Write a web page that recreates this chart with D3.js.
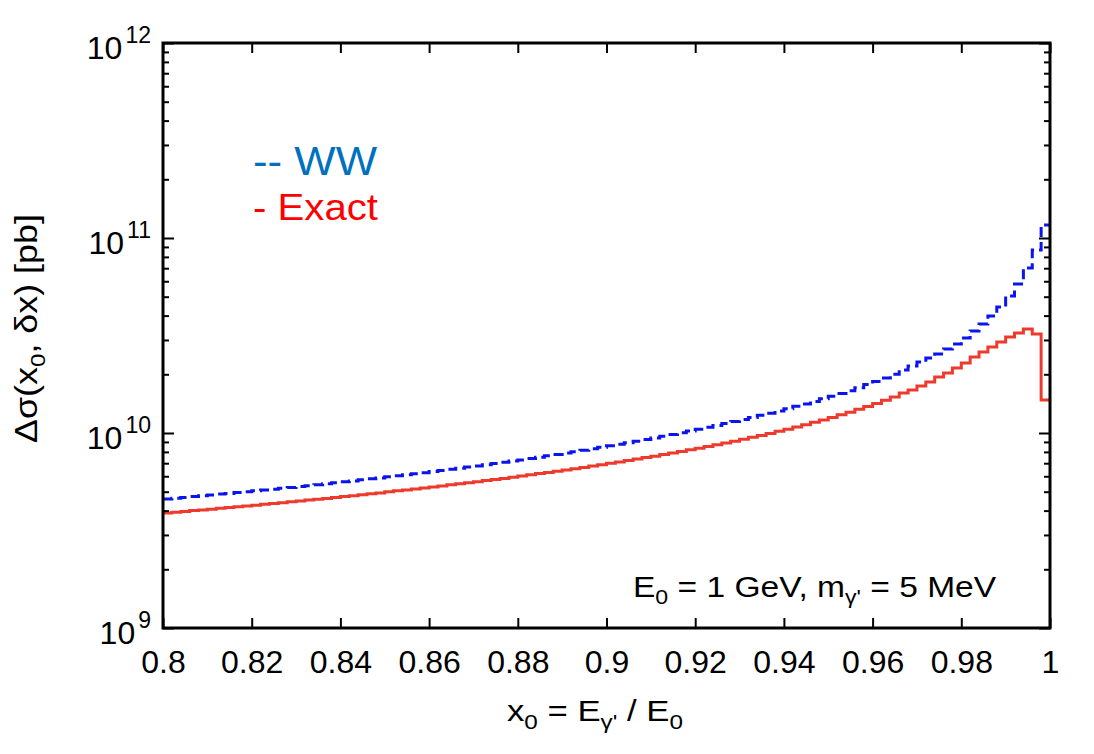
<!DOCTYPE html>
<html>
<head>
<meta charset="utf-8">
<script src="https://cdn.jsdelivr.net/npm/d3@7"></script>
<style>
  html, body { margin: 0; padding: 0; background: #ffffff; }
  svg { display: block; }
  text { font-family: "Liberation Sans", Arial, Helvetica, sans-serif; fill: #000; }
</style>
</head>
<body>
<svg id="chart" width="1094" height="754"></svg>
<script>
// ---------------- data ----------------
const xStart = 0.8, xEnd = 1.0, binWidth = 0.002;   // 100 bins of width 0.002

// WW approximation (blue dashed), per bin, pb
const wwValues = [
  4.59e9, 4.63e9, 4.67e9, 4.72e9, 4.76e9, 4.81e9, 4.86e9, 4.90e9, 4.95e9, 5.00e9,
  5.05e9, 5.10e9, 5.15e9, 5.21e9, 5.26e9, 5.32e9, 5.37e9, 5.43e9, 5.49e9, 5.55e9,
  5.62e9, 5.68e9, 5.75e9, 5.82e9, 5.88e9, 5.96e9, 6.03e9, 6.10e9, 6.18e9, 6.26e9,
  6.34e9, 6.42e9, 6.51e9, 6.60e9, 6.69e9, 6.78e9, 6.87e9, 6.97e9, 7.07e9, 7.18e9,
  7.28e9, 7.40e9, 7.51e9, 7.64e9, 7.76e9, 7.89e9, 8.02e9, 8.16e9, 8.30e9, 8.44e9,
  8.59e9, 8.75e9, 8.91e9, 9.08e9, 9.26e9, 9.44e9, 9.63e9, 9.82e9, 1.003e10, 1.024e10,
  1.046e10, 1.069e10, 1.093e10, 1.119e10, 1.145e10, 1.172e10, 1.201e10, 1.232e10, 1.264e10, 1.297e10,
  1.333e10, 1.370e10, 1.410e10, 1.452e10, 1.497e10, 1.544e10, 1.595e10, 1.649e10, 1.708e10, 1.771e10,
  1.838e10, 1.916e10, 1.999e10, 2.104e10, 2.206e10, 2.313e10, 2.424e10, 2.542e10, 2.697e10, 2.860e10,
  3.070e10, 3.335e10, 3.622e10, 3.981e10, 4.428e10, 5.042e10, 5.809e10, 7.018e10, 8.680e10, 1.166e11
];

// Exact calculation (red solid), per bin, pb
const exactValues = [
  3.89e9, 3.92e9, 3.96e9, 4.00e9, 4.03e9, 4.07e9, 4.11e9, 4.15e9, 4.19e9, 4.22e9,
  4.26e9, 4.31e9, 4.35e9, 4.39e9, 4.44e9, 4.48e9, 4.53e9, 4.57e9, 4.62e9, 4.67e9,
  4.72e9, 4.77e9, 4.82e9, 4.88e9, 4.93e9, 4.99e9, 5.05e9, 5.10e9, 5.16e9, 5.23e9,
  5.29e9, 5.35e9, 5.42e9, 5.49e9, 5.56e9, 5.63e9, 5.70e9, 5.78e9, 5.85e9, 5.93e9,
  6.02e9, 6.10e9, 6.19e9, 6.28e9, 6.37e9, 6.46e9, 6.56e9, 6.66e9, 6.77e9, 6.88e9,
  6.99e9, 7.10e9, 7.22e9, 7.35e9, 7.48e9, 7.61e9, 7.75e9, 7.89e9, 8.04e9, 8.20e9,
  8.36e9, 8.53e9, 8.71e9, 8.89e9, 9.08e9, 9.29e9, 9.50e9, 9.72e9, 9.95e9, 1.020e10,
  1.046e10, 1.074e10, 1.103e10, 1.134e10, 1.167e10, 1.201e10, 1.239e10, 1.279e10, 1.322e10, 1.368e10,
  1.418e10, 1.472e10, 1.530e10, 1.604e10, 1.661e10, 1.742e10, 1.826e10, 1.938e10, 2.031e10, 2.154e10,
  2.286e10, 2.453e10, 2.602e10, 2.761e10, 2.929e10, 3.107e10, 3.257e10, 3.415e10, 3.219e10, 1.476e10
];

const xTicks = [0.8, 0.82, 0.84, 0.86, 0.88, 0.9, 0.92, 0.94, 0.96, 0.98, 1.0];
const xTickLabels = ["0.8", "0.82", "0.84", "0.86", "0.88", "0.9", "0.92", "0.94", "0.96", "0.98", "1"];
const yDecades = [1e9, 1e10, 1e11, 1e12];
const yDecadeExponents = ["9", "10", "11", "12"];

// ---------------- layout ----------------
const svg = d3.select("#chart");
const L = 163, R = 1050, T = 43, B = 628;

const x = d3.scaleLinear().domain([xStart, xEnd]).range([L, R]);
const y = d3.scaleLog().domain([1e9, 1e12]).range([B, T]);

svg.append("defs").append("clipPath").attr("id", "plotclip")
  .append("rect").attr("x", L).attr("y", T).attr("width", R - L).attr("height", B - T);

function stepPoints(vals) {
  const pts = vals.map((v, i) => [xStart + i * binWidth, v]);
  pts.push([xEnd, vals[vals.length - 1]]);
  return pts;
}
const line = d3.line()
  .x(d => x(d[0]))
  .y(d => y(d[1]))
  .curve(d3.curveStepAfter);

const plot = svg.append("g").attr("clip-path", "url(#plotclip)");

plot.append("path")
  .datum(stepPoints(exactValues))
  .attr("d", line)
  .attr("fill", "none")
  .attr("stroke", "#ee3a2c")
  .attr("stroke-width", 3);

plot.append("path")
  .datum(stepPoints(wwValues))
  .attr("d", line)
  .attr("fill", "none")
  .attr("stroke", "#0a14ee")
  .attr("stroke-width", 3)
  .attr("stroke-dasharray", "10,5");

// ---------------- axes ----------------
const minorY = [];
for (let e = 9; e < 12; e++) for (let m = 2; m <= 9; m++) minorY.push(m * Math.pow(10, e));

function styleAxis(g) {
  g.select(".domain").remove();
  g.selectAll(".tick line").attr("stroke", "#000").attr("stroke-width", 2);
}

const gB = svg.append("g").attr("transform", `translate(0,${B})`)
  .call(d3.axisBottom(x).tickValues(xTicks).tickSize(-10).tickPadding(22)
    .tickFormat((d, i) => xTickLabels[i]));
styleAxis(gB);
gB.selectAll(".tick text").attr("font-size", 32).attr("fill", "#000")
  .attr("font-family", "'Liberation Sans', Arial, sans-serif");

const gT = svg.append("g").attr("transform", `translate(0,${T})`)
  .call(d3.axisTop(x).tickValues(xTicks).tickSize(-10).tickFormat(""));
styleAxis(gT);

const gL = svg.append("g").attr("transform", `translate(${L},0)`)
  .call(d3.axisLeft(y).tickValues(yDecades).tickSize(-11).tickFormat(""));
styleAxis(gL);
const gLm = svg.append("g").attr("transform", `translate(${L},0)`)
  .call(d3.axisLeft(y).tickValues(minorY).tickSize(-6).tickFormat(""));
styleAxis(gLm);

const gR = svg.append("g").attr("transform", `translate(${R},0)`)
  .call(d3.axisRight(y).tickValues(yDecades).tickSize(-11).tickFormat(""));
styleAxis(gR);
const gRm = svg.append("g").attr("transform", `translate(${R},0)`)
  .call(d3.axisRight(y).tickValues(minorY).tickSize(-6).tickFormat(""));
styleAxis(gRm);

yDecades.forEach((d, i) => {
  const t = svg.append("text")
    .attr("x", 151).attr("y", y(d) + 16)
    .attr("text-anchor", "end")
    .attr("font-size", 32);
  t.append("tspan").text("10");
  t.append("tspan").attr("dx", 3).attr("dy", -16).attr("font-size", 23).text(yDecadeExponents[i]);
});

svg.append("rect")
  .attr("x", L).attr("y", T).attr("width", R - L).attr("height", B - T)
  .attr("fill", "none").attr("stroke", "#000").attr("stroke-width", 3);

// ---------------- titles ----------------
// scale a text (anchored at 0,0) horizontally so its width equals targetW
function fitText(t, tx, ty, targetW, rot) {
  const w = t.node().getBBox().width;
  const s = targetW / w;
  t.attr("transform", `translate(${tx},${ty})` + (rot ? ` rotate(${rot})` : "") + ` scale(${s},1)`);
}

const xt = svg.append("text").attr("x", 0).attr("y", 0).attr("font-size", 30);
xt.append("tspan").text("x");
xt.append("tspan").attr("font-size", 21).attr("dy", 8).text("0");
xt.append("tspan").attr("dy", -8).text(" = E");
xt.append("tspan").attr("font-size", 21).attr("dy", 8).text("γ'");
xt.append("tspan").attr("dy", -8).text(" / E");
xt.append("tspan").attr("font-size", 21).attr("dy", 8).text("0");
fitText(xt, 507, 721, 176, 0);

const yt = svg.append("text").attr("x", 0).attr("y", 0).attr("font-size", 31);
yt.append("tspan").text("Δσ(x");
yt.append("tspan").attr("font-size", 21).attr("dy", 8).text("0");
yt.append("tspan").attr("dy", -8).text(", δx) [pb]");
fitText(yt, 37, 443, 229, -90);

const an = svg.append("text").attr("x", 0).attr("y", 0).attr("font-size", 29);
an.append("tspan").text("E");
an.append("tspan").attr("font-size", 20).attr("dy", 7).text("0");
an.append("tspan").attr("dy", -7).text(" = 1 GeV, m");
an.append("tspan").attr("font-size", 20).attr("dy", 7).text("γ'");
an.append("tspan").attr("dy", -7).text(" = 5 MeV");
fitText(an, 633, 597, 364, 0);

// legend
svg.append("text").attr("x", 253).attr("y", 175)
  .attr("font-family", "Lato, 'Open Sans', sans-serif").attr("font-size", 41)
  .style("fill", "#0070c0")
  .attr("textLength", 124).attr("lengthAdjust", "spacingAndGlyphs")
  .text("-- WW");
svg.append("text").attr("x", 253).attr("y", 220)
  .attr("font-family", "Lato, 'Open Sans', sans-serif").attr("font-size", 36)
  .style("fill", "#ff0000")
  .attr("textLength", 125).attr("lengthAdjust", "spacingAndGlyphs")
  .text("- Exact");
</script>
</body>
</html>
